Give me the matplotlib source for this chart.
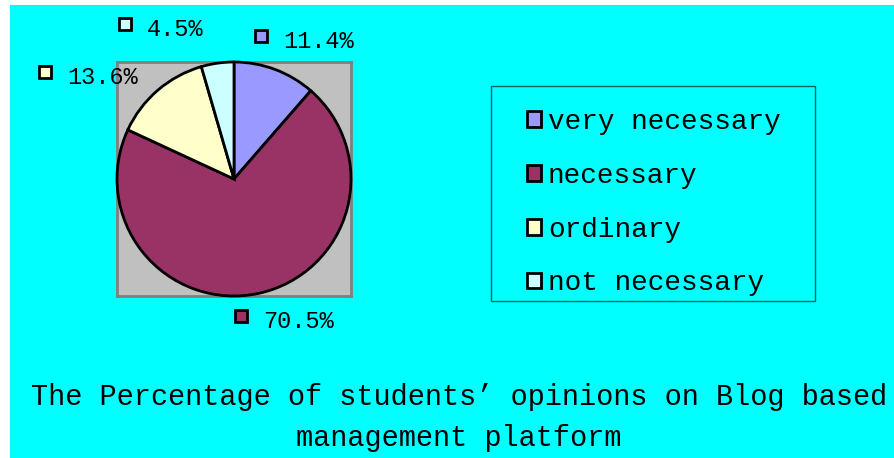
import matplotlib
matplotlib.use("Agg")
import matplotlib.pyplot as plt
from matplotlib.patches import Rectangle, Patch

# ---- data ----
categories = ["very necessary", "necessary", "ordinary", "not necessary"]
values = [11.4, 70.5, 13.6, 4.5]
value_labels = ["11.4%", "70.5%", "13.6%", "4.5%"]
colors = ["#9999FF", "#993366", "#FFFFCC", "#CCFFFF"]
title_lines = ["The Percentage of students\u2019 opinions on Blog based",
               "management platform"]

W, H = 895, 458
FONT = ["Liberation Mono", "DejaVu Sans Mono"]

fig = plt.figure(figsize=(W / 100, H / 100), dpi=100, facecolor="white")

def fx(px):
    return px / W

def fy(py):
    return 1 - py / H

# cyan background panel
fig.patches.append(Rectangle((fx(10), 0), 1 - fx(10), fy(5), transform=fig.transFigure,
                             facecolor="#00FFFF", edgecolor="none", zorder=-10))

# pie plot area
ax = fig.add_axes([fx(117), fy(296), fx(351) - fx(117), (296 - 62) / H])
ax.set_zorder(2)
wedges, _ = ax.pie(values, colors=colors, startangle=90, counterclock=False, radius=1.0,
                   frame=True, wedgeprops=dict(edgecolor="black", linewidth=2))
for w in wedges:
    w.set_clip_on(False)
ax.set_facecolor("#C0C0C0")
ax.set_frame_on(True)
for s in ax.spines.values():
    s.set_visible(True)
    s.set_edgecolor("#808080")
    s.set_linewidth(2)
    s.set_zorder(0.5)
ax.set_xticks([])
ax.set_yticks([])
ax.set_xlim(-1.0, 1.0)
ax.set_ylim(-1.0, 1.0)
ax.set_aspect("auto")

# data labels (text positions in pixels) with colour keys
label_pos = [(283, 41), (263, 321), (67, 77), (147, 29)]
for (tx, ty), lab, col in zip(label_pos, value_labels, colors):
    fig.text(fx(tx), fy(ty), lab, family=FONT, fontsize=17, ha="left", va="center",
             color="black", zorder=5)
    fig.patches.append(Rectangle((fx(tx - 28), fy(ty + 1)), 12 / W, 12 / H,
                                 transform=fig.transFigure, facecolor=col,
                                 edgecolor="black", linewidth=2, zorder=5))

# legend box
fig.patches.append(Rectangle((fx(491), fy(301)), (815 - 491) / W, (301 - 86) / H,
                             transform=fig.transFigure, facecolor="#00FFFF",
                             edgecolor="#006666", linewidth=1, zorder=1))

# legend
handles = [Patch(facecolor=c, edgecolor="black", linewidth=2) for c in colors]
leg = fig.legend(handles, categories, loc="upper left",
                 bbox_to_anchor=(fx(527), fy(109)),
                 borderaxespad=0, prop=dict(family=FONT, size=20),
                 handlelength=0.5, handleheight=0.5, handletextpad=0.25,
                 labelspacing=1.0, borderpad=0, frameon=False)
leg.set_zorder(3)

# title
fig.text(fx(459), fy(397), title_lines[0], family=FONT, fontsize=20.6, ha="center", va="center")
fig.text(fx(459), fy(438), title_lines[1], family=FONT, fontsize=20.6, ha="center", va="center")

fig.savefig("out.png", dpi=100, facecolor="white")
